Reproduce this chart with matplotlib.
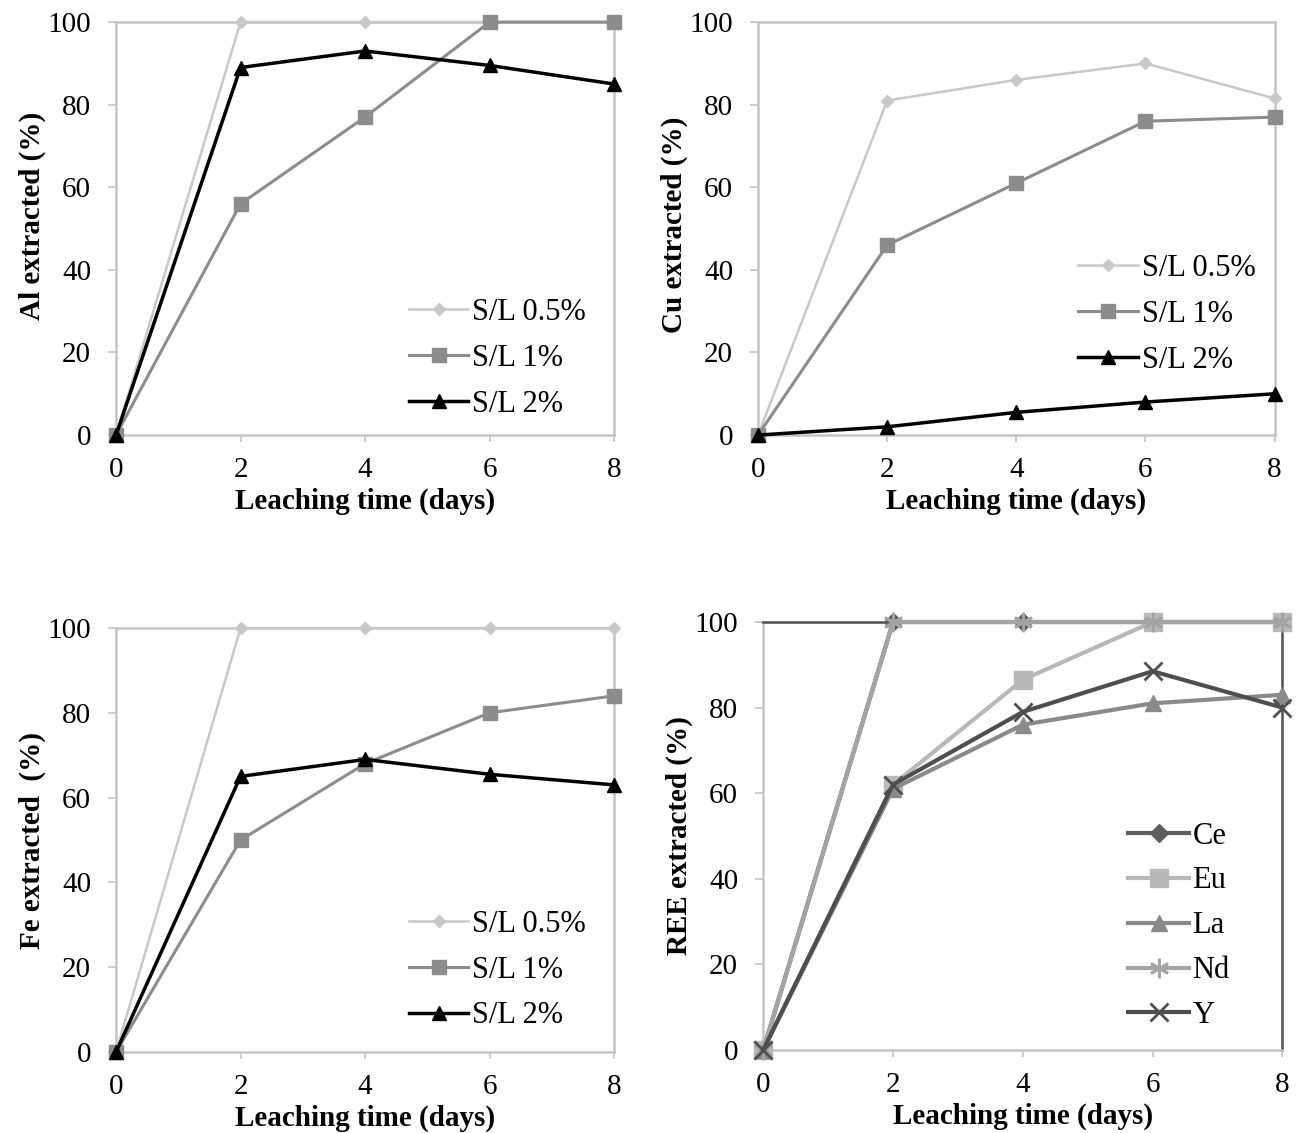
import matplotlib
matplotlib.use('Agg')
from matplotlib import pyplot as plt

plt.rcParams['font.family'] = ['Liberation Serif', 'DejaVu Serif']

days = [0, 2, 4, 6, 8]
sl_labels = ['S/L 0.5%', 'S/L 1%', 'S/L 2%']

al_05 = [0, 100, 100, 100, 100]
al_1 = [0, 56, 77, 100, 100]
al_2 = [0, 89, 93, 89.5, 85]

cu_05 = [0, 81, 86, 90, 81.5]
cu_1 = [0, 46, 61, 76, 77]
cu_2 = [0, 2, 5.5, 8, 10]

fe_05 = [0, 100, 100, 100, 100]
fe_1 = [0, 50, 68, 80, 84]
fe_2 = [0, 65, 69, 65.5, 63]

ree_names = ['Ce', 'Eu', 'La', 'Nd', 'Y']
ree_ce = [0, 100, 100, 100, 100]
ree_eu = [0, 62, 86.5, 100, 100]
ree_la = [0, 61, 76, 81, 83]
ree_nd = [0, 100, 100, 100, 100]
ree_y = [0, 62, 79, 88.5, 80]

sl_styles = [
    dict(color='#c8c8c8', marker='D', markersize=6, lw=1.8),
    dict(color='#8c8c8c', marker='s', markersize=10, lw=2.2),
    dict(color='#000000', marker='^', markersize=10, lw=2.5),
]
ree_styles = [
    dict(color='#5e5e5e', marker='D', markersize=9, lw=3),
    dict(color='#b8b8b8', marker='s', markersize=13, lw=3),
    dict(color='#8a8a8a', marker='^', markersize=12, lw=3),
    dict(color='#a4a4a4', marker=(6, 2, 0), markersize=14, mew=2, lw=3),
    dict(color='#4e4e4e', marker='x', markersize=13, mew=2, lw=3),
]

fig = plt.figure(figsize=(12.98, 11.33), dpi=100)
ax_al = fig.add_axes([0.0894, 0.616, 0.3837, 0.3645])
ax_cu = fig.add_axes([0.584, 0.616, 0.398, 0.3645])
ax_fe = fig.add_axes([0.0894, 0.0715, 0.3837, 0.3742])
ax_ree = fig.add_axes([0.588, 0.0733, 0.400, 0.3777])


def style_axes(ax, ylabel):
    ax.set_xlim(0, 8)
    ax.set_ylim(0, 100)
    ax.set_xticks(days)
    ax.set_yticks([0, 20, 40, 60, 80, 100])
    for sp in ax.spines.values():
        sp.set_color('#c4c4c4')
        sp.set_linewidth(1.8)
    ax.tick_params(axis='y', length=6, width=1.2, color='#c4c4c4', labelsize=21, pad=12)
    ax.tick_params(axis='x', length=5, width=1.2, color='#c4c4c4', labelsize=21, pad=11)
    ax.set_xlabel('Leaching time (days)', fontsize=21, fontweight='bold', labelpad=3)
    ax.set_ylabel(ylabel, fontsize=21, fontweight='bold', labelpad=1)


def sl_panel(ax, series, ylabel, legend_pos):
    for vals, lab, st in zip(series, sl_labels, sl_styles):
        ax.plot(days, vals, label=lab, clip_on=False, zorder=3, **st)
    style_axes(ax, ylabel)
    ax.legend(loc='center left', bbox_to_anchor=legend_pos, frameon=False,
              fontsize=22, handlelength=1.95, handletextpad=0.12,
              labelspacing=0.55, borderpad=0, borderaxespad=0)


sl_panel(ax_al, [al_05, al_1, al_2], 'Al extracted (%)', (0.588, 0.186))
sl_panel(ax_cu, [cu_05, cu_1, cu_2], 'Cu extracted (%)', (0.62, 0.292))
sl_panel(ax_fe, [fe_05, fe_1, fe_2], 'Fe extracted  (%)', (0.588, 0.193))

for vals, lab, st in zip([ree_ce, ree_eu, ree_la, ree_nd, ree_y], ree_names, ree_styles):
    ax_ree.plot(days, vals, label=lab, clip_on=False, zorder=3, **st)
style_axes(ax_ree, 'REE extracted (%)')
ax_ree.spines['top'].set_color('#505050')
ax_ree.spines['right'].set_color('#505050')
ax_ree.legend(loc='center left', bbox_to_anchor=(0.703, 0.29), frameon=False,
              fontsize=22, handlelength=2.0, handletextpad=0.1,
              labelspacing=0.52, borderpad=0, borderaxespad=0)

# top-row labels sit a little above the middle
ax_al.yaxis.label.set_y(0.53)
ax_cu.yaxis.label.set_y(0.51)

fig.savefig('out.png', dpi=100)
